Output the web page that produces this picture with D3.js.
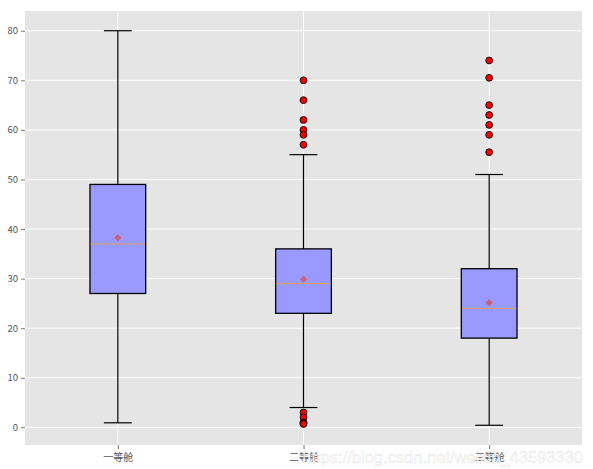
<!DOCTYPE html>
<html>
<head>
<meta charset="utf-8">
<script src="https://cdn.jsdelivr.net/npm/d3@7"></script>
<style>
  html, body { margin: 0; padding: 0; background: #fff; }
  svg { display: block; }
</style>
</head>
<body>
<svg id="chart" width="593" height="469"></svg>
<script>
// ---- data ----
const categories = ["一等舱", "二等舱", "三等舱"];
const q1Values = [27, 23, 18];
const medianValues = [37, 29, 24];
const q3Values = [49, 36, 32];
const meanValues = [38.23, 29.88, 25.14];
const whiskerLow = [0.92, 4, 0.42];
const whiskerHigh = [80, 55, 51];
const outliers = [
  [],
  [70, 66, 62, 60, 59, 57, 3, 2, 1, 0.83, 0.67],
  [74, 70.5, 65, 63, 61, 59, 55.5]
];
const yTicks = [0, 10, 20, 30, 40, 50, 60, 70, 80];
const watermark = "https://blog.csdn.net/weixin_43593330";

(function () {
// ---- layout ----
const pLeft = 25, pRight = 582, pTop = 11, pBottom = 445;
const svg = d3.select("#chart");
const font = "'Noto Sans CJK SC', 'Liberation Sans', sans-serif";

const x = d3.scaleLinear().domain([0.5, 3.5]).range([pLeft, pRight]);
const allVals = [].concat(whiskerLow, whiskerHigh, ...outliers);
const lo = d3.min(allVals), hi = d3.max(allVals), pad = (hi - lo) * 0.05;
const y = d3.scaleLinear().domain([lo - pad, hi + pad]).range([pBottom, pTop]);

// background
svg.append("rect").attr("x", pLeft).attr("y", pTop)
  .attr("width", pRight - pLeft).attr("height", pBottom - pTop).attr("fill", "#e5e5e5");

// grid
const grid = svg.append("g");
grid.selectAll("line.h").data(yTicks).join("line").attr("class", "h")
  .attr("x1", pLeft).attr("x2", pRight)
  .attr("y1", d => y(d)).attr("y2", d => y(d))
  .attr("stroke", "#fff").attr("stroke-width", 1);
grid.selectAll("line.v").data(categories).join("line").attr("class", "v")
  .attr("x1", (d, i) => x(i + 1)).attr("x2", (d, i) => x(i + 1))
  .attr("y1", pTop).attr("y2", pBottom)
  .attr("stroke", "#fff").attr("stroke-width", 1);

// axes
const yAxis = d3.axisLeft(y).tickValues(yTicks).tickSize(4).tickPadding(3);
const gy = svg.append("g").attr("transform", `translate(${pLeft},0)`).call(yAxis);
gy.select(".domain").remove();
gy.selectAll(".tick line").attr("stroke", "#555").attr("stroke-width", 0.8);
gy.selectAll(".tick text").attr("fill", "#555").attr("font-size", "9.5px").attr("font-family", font);

const xAxis = d3.axisBottom(x).tickValues([1, 2, 3]).tickFormat(d => categories[d - 1]).tickSize(4).tickPadding(5);
const gx = svg.append("g").attr("transform", `translate(0,${pBottom})`).call(xAxis);
gx.select(".domain").remove();
gx.selectAll(".tick line").attr("stroke", "#555").attr("stroke-width", 0.8);
gx.selectAll(".tick text").attr("fill", "#555").attr("font-size", "10px").attr("font-family", font);

// boxes
const boxW = (x(1.3) - x(1));
const capW = boxW / 2;
const boxes = svg.append("g");
categories.forEach((c, i) => {
  const cx = x(i + 1);
  const g = boxes.append("g");
  g.append("line").attr("x1", cx).attr("x2", cx).attr("y1", y(q3Values[i])).attr("y2", y(whiskerHigh[i]))
    .attr("stroke", "#000").attr("stroke-width", 1.2);
  g.append("line").attr("x1", cx).attr("x2", cx).attr("y1", y(q1Values[i])).attr("y2", y(whiskerLow[i]))
    .attr("stroke", "#000").attr("stroke-width", 1.2);
  [whiskerHigh[i], whiskerLow[i]].forEach(v => {
    g.append("line").attr("x1", cx - capW / 2).attr("x2", cx + capW / 2)
      .attr("y1", y(v)).attr("y2", y(v)).attr("stroke", "#000").attr("stroke-width", 1.2);
  });
  g.append("rect").attr("x", cx - boxW / 2).attr("y", y(q3Values[i]))
    .attr("width", boxW).attr("height", y(q1Values[i]) - y(q3Values[i]))
    .attr("fill", "#9999ff").attr("stroke", "#000").attr("stroke-width", 1.3);
  g.append("line").attr("x1", cx - boxW / 2 + 0.7).attr("x2", cx + boxW / 2 - 0.7)
    .attr("y1", y(medianValues[i])).attr("y2", y(medianValues[i]))
    .attr("stroke", "#ffa500").attr("stroke-width", 1).attr("stroke-dasharray", "3.5,1.8");
  g.append("path").attr("d", d3.symbol(d3.symbolSquare, 26)())
    .attr("transform", `translate(${cx},${y(meanValues[i])}) rotate(45)`)
    .attr("fill", "#cf5b58").attr("opacity", 0.85);
  g.selectAll("circle").data(outliers[i]).join("circle")
    .attr("cx", cx).attr("cy", d => y(d)).attr("r", 3.4)
    .attr("fill", "#ff0000").attr("stroke", "#000").attr("stroke-width", 0.9);
});

// watermark (present in the reference image)
svg.append("text").attr("x", 583).attr("y", 463).attr("text-anchor", "end")
  .attr("font-family", "'Liberation Sans', Arial, sans-serif").attr("font-size", "16.5px")
  .attr("fill", "#ffffff").attr("fill-opacity", 0.8)
  .attr("stroke", "#cccccc").attr("stroke-width", 0.5).attr("stroke-opacity", 0.55)
  .text(watermark);
})();
</script>
</body>
</html>
